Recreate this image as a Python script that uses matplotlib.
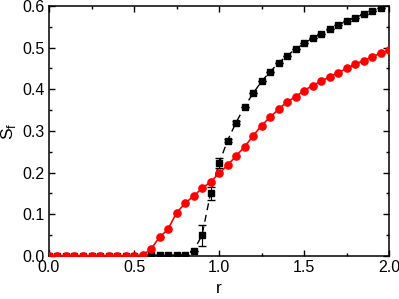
import matplotlib
matplotlib.use("Agg")
import matplotlib.pyplot as plt
from matplotlib.ticker import MultipleLocator, FormatStrFormatter

plt.rcParams['font.family'] = ['Liberation Sans', 'DejaVu Sans']

r_black = [0.0, 0.05, 0.1, 0.15, 0.2, 0.25, 0.3, 0.35, 0.4, 0.45, 0.5, 0.55,
           0.6, 0.65, 0.7, 0.75, 0.8, 0.85, 0.9, 0.95, 1.0, 1.05, 1.1, 1.15,
           1.2, 1.25, 1.3, 1.35, 1.4, 1.45, 1.5, 1.55, 1.6, 1.65, 1.7, 1.75,
           1.8, 1.85, 1.9, 1.95]
s_black = [0.0, 0.0, 0.0, 0.0, 0.0, 0.0, 0.0, 0.0, 0.0, 0.0, 0.0, 0.0,
           0.002, 0.002, 0.002, 0.002, 0.003, 0.012, 0.050, 0.150, 0.222, 0.277, 0.320, 0.358,
           0.390, 0.419, 0.442, 0.463, 0.481, 0.496, 0.510, 0.523, 0.533, 0.544, 0.554, 0.564,
           0.572, 0.580, 0.588, 0.595]
err_black = [0.0] * 17 + [0.0, 0.025, 0.016, 0.012, 0.004, 0.003, 0.0] + [0.0] * 16

r_red = [0.0, 0.05, 0.1, 0.15, 0.2, 0.25, 0.3, 0.35, 0.4, 0.45, 0.5, 0.55,
         0.6, 0.65, 0.7, 0.75, 0.8, 0.85, 0.9, 0.95, 1.0, 1.05, 1.1, 1.15,
         1.2, 1.25, 1.3, 1.35, 1.4, 1.45, 1.5, 1.55, 1.6, 1.65, 1.7, 1.75,
         1.8, 1.85, 1.9, 1.95, 2.0]
s_red = [0.0, 0.0, 0.0, 0.0, 0.0, 0.0, 0.0, 0.0, 0.0, 0.0, 0.0, 0.002,
         0.017, 0.045, 0.064, 0.104, 0.126, 0.144, 0.162, 0.178, 0.198, 0.218, 0.240, 0.262,
         0.288, 0.313, 0.333, 0.352, 0.370, 0.382, 0.397, 0.409, 0.419, 0.430, 0.440, 0.450,
         0.460, 0.469, 0.478, 0.486, 0.494]

fig = plt.figure(figsize=(3.99, 2.99), dpi=100)
ax = fig.add_axes([0.1228, 0.1438, 0.8522, 0.8362])

ax.errorbar(r_black, s_black, yerr=err_black, color='black', marker='s', markersize=4.6,
            linestyle=(0, (5, 3.5)), linewidth=1.0, capsize=3, elinewidth=0.8, zorder=2)
ax.plot(r_red, s_red, color='#ff0000', marker='o', markersize=5.2, linestyle='-',
        linewidth=1.2, zorder=3)

ax.set_xlim(0, 2.0)
ax.set_ylim(0, 0.6)
ax.xaxis.set_major_locator(MultipleLocator(0.5))
ax.xaxis.set_minor_locator(MultipleLocator(0.25))
ax.yaxis.set_major_locator(MultipleLocator(0.1))
ax.yaxis.set_minor_locator(MultipleLocator(0.05))
ax.xaxis.set_major_formatter(FormatStrFormatter('%.1f'))
ax.yaxis.set_major_formatter(FormatStrFormatter('%.1f'))
ax.tick_params(which='both', direction='in', top=True, right=True, labelsize=11.5)
ax.tick_params(which='major', length=4, width=1, pad=3)
ax.tick_params(which='minor', length=2.5, width=1)
for s in ax.spines.values():
    s.set_linewidth(1.1)

ax.set_xlabel('r', fontsize=12.5, labelpad=4)
ax.set_ylabel('S$_\\mathregular{f}$', fontsize=12.5, labelpad=3)

fig.savefig('out.png', dpi=100)
